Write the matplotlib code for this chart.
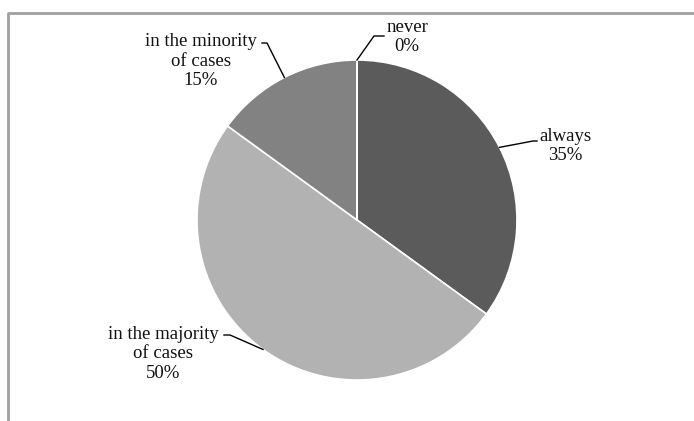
import numpy as np
import matplotlib
matplotlib.use('Agg')
import matplotlib.pyplot as plt

# share of answers, clockwise from 12 o'clock
labels = ['always', 'in the majority\nof cases', 'in the minority\nof cases', 'never']
shares = [35, 50, 15, 0]
colors = ['#5b5b5b', '#b2b2b2', '#828282', '#d0d0d0']

# label centres and leader elbows (pixel space, y pointing up)
label_pos = [(565, 275), (163, 67), (201, 360), (407, 384)]
elbows = [[(533, 280), (537, 280)],
          [(230, 86), (224, 86)],
          [(267, 378), (262, 378)],
          [(374, 385), (384, 385)]]

W, H = 694, 421
fig = plt.figure(figsize=(W / 100, H / 100), dpi=100)
ax = fig.add_axes([0, 0, 1, 1])

cx, cy, r = 357, 201, 160
wedges, _ = ax.pie(shares, colors=colors, startangle=90, counterclock=False,
                   center=(cx, cy), radius=r, frame=True,
                   wedgeprops=dict(edgecolor='white', linewidth=1.2))
ax.set_xlim(0, W)
ax.set_ylim(0, H)
ax.set_aspect('equal')
ax.axis('off')

# never (0%) shows only as a thin white divider at the top
ax.plot([cx, cx], [cy, cy + r], color='white', lw=1.2, zorder=3)

cum = np.cumsum([0] + shares[:-1])
font = ['Liberation Serif', 'DejaVu Serif']
for i, (lab, s) in enumerate(zip(labels, shares)):
    mid = np.deg2rad(90 - 3.6 * (cum[i] + s / 2))
    px, py = cx + r * np.cos(mid), cy + r * np.sin(mid)
    pts = [(px, py)] + elbows[i]
    ax.plot([p[0] for p in pts], [p[1] for p in pts], color='black', lw=1.0,
            zorder=4)
    ax.text(label_pos[i][0], label_pos[i][1], f'{lab}\n{s}%', ha='center',
            va='center', fontsize=13.5, family=font, linespacing=1.22,
            color='#111111')

# chart area border (top and left edges)
ax.plot([8.5, 8.5, W], [0, H - 12.5, H - 12.5], color='#a0a0a0', lw=2,
        clip_on=False)

fig.savefig('out.png', dpi=100, facecolor='white')
